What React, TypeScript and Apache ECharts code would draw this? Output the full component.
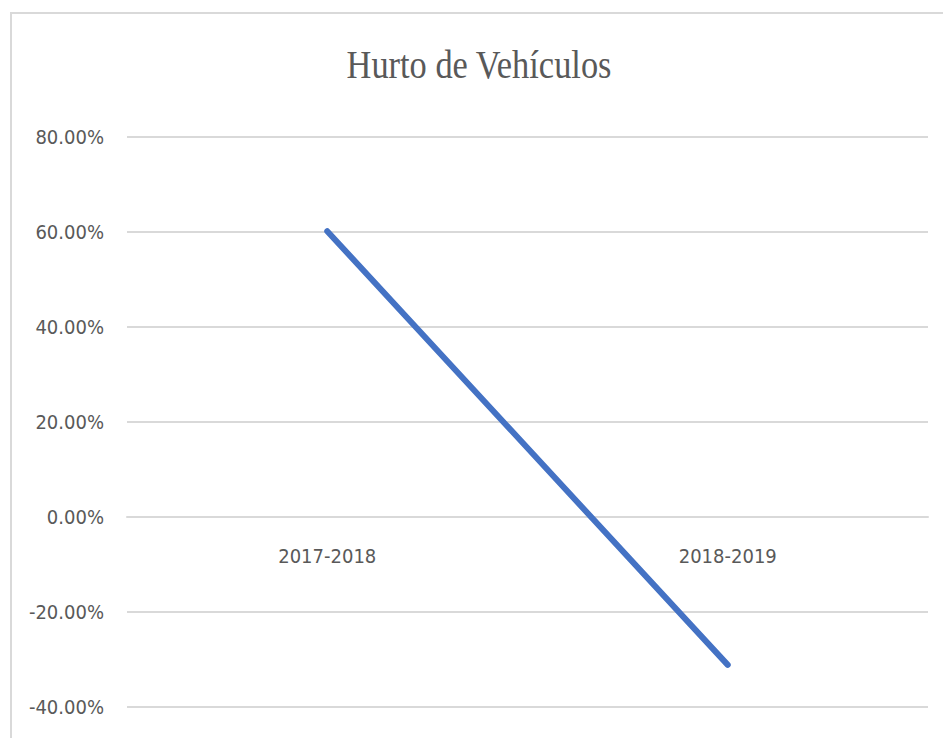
import React, { useEffect, useRef } from "react";
import * as echarts from "echarts";

const titleText = "Hurto de Vehículos";
const categories = ["2017-2018", "2018-2019"];
const values = [60.1, -31.2];
const yMin = -40;
const yMax = 80;
const yInterval = 20;

const labelFont = "'DejaVu Sans Condensed', 'Liberation Sans Narrow', sans-serif";

const gridTop = 136.7;
const gridBottom = 31.3;
const chartH = 738;

export default function App() {
  const ref = useRef<HTMLDivElement>(null);
  useEffect(() => {
    document.body.style.margin = "0";
    const chart = echarts.init(ref.current!, null, { renderer: "svg" });
    const plotH = chartH - gridTop - gridBottom;
    const zeroFromBottom = (plotH * (0 - yMin)) / (yMax - yMin);
    chart.setOption({
      animation: false,
      backgroundColor: "#ffffff",
      graphic: [
        {
          type: "rect",
          shape: { x: 11, y: 13, width: 960, height: 760 },
          style: { fill: "none", stroke: "#d9d9d9", lineWidth: 2 },
          silent: true,
          z: -10,
        },
        {
          type: "text",
          x: 479,
          y: 85,
          scaleX: 0.86,
          style: {
            text: titleText,
            font: "40px 'Liberation Serif', 'Times New Roman', serif",
            fill: "#595959",
            textAlign: "center",
            textVerticalAlign: "bottom",
          },
        },
      ],
      grid: {
        left: 127,
        right: 15,
        top: gridTop,
        bottom: gridBottom,
        containLabel: false,
        outerBoundsMode: "none",
      },
      xAxis: {
        type: "category",
        data: categories,
        boundaryGap: true,
        position: "bottom",
        offset: -zeroFromBottom,
        axisTick: { show: false },
        axisLine: { show: true, onZero: false, lineStyle: { color: "#d9d9d9", width: 2 } },
        axisLabel: { color: "#595959", fontSize: 20, fontFamily: labelFont, margin: 29 },
        splitLine: { show: false },
      },
      yAxis: {
        type: "value",
        min: yMin,
        max: yMax,
        interval: yInterval,
        axisLine: { show: false },
        axisTick: { show: false },
        axisLabel: {
          color: "#595959",
          fontSize: 20,
          fontFamily: labelFont,
          margin: 23,
          formatter: (v: number) => v.toFixed(2) + "%",
        },
        splitLine: { lineStyle: { color: "#d9d9d9", width: 2 } },
      },
      series: [
        {
          type: "line",
          data: values,
          symbol: "none",
          lineStyle: { color: "#4472c4", width: 6, cap: "round", join: "round" },
        },
      ],
    });
    return () => chart.dispose();
  }, []);
  return <div ref={ref} style={{ width: 943, height: 738 }} />;
}
